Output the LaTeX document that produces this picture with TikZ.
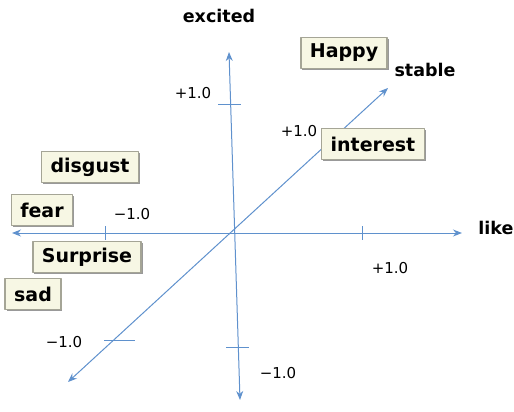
\documentclass[tikz,border=0pt]{standalone}
\usepackage{fontspec}
\setmainfont{DejaVu Sans}
\usetikzlibrary{shadows,arrows.meta}
\definecolor{axisblue}{RGB}{95,145,205}
\definecolor{boxfill}{RGB}{247,247,228}
\definecolor{boxedge}{RGB}{165,165,150}
\tikzset{
	emobox/.style={draw=boxedge, line width=1.5pt, fill=boxfill, font=\bfseries\fontsize{19}{21}\selectfont,
		minimum height=31pt, inner xsep=9pt, inner ysep=2pt,
		drop shadow={shadow xshift=1.5pt, shadow yshift=-1.5pt, fill=black!50, opacity=0.8}},
	axislbl/.style={font=\bfseries\fontsize{17.5}{20}\selectfont},
	ticklbl/.style={font=\fontsize{15}{18}\selectfont},
	axisln/.style={draw=axisblue, line width=1pt},
}
\begin{document}
\begin{tikzpicture}[x=1pt, y=-1pt, line join=round, >={Stealth[length=9pt,width=7pt]}]
	\useasboundingbox (0,0) rectangle (514,412);
	% Trục
	\coordinate (xL) at (12,233); \coordinate (xR) at (462,233);
	\coordinate (yT) at (229,52); \coordinate (yB) at (240,400);
	\coordinate (zB) at (68,382); \coordinate (zT) at (388,88);
	\draw[axisln,<->] (xL)--(xR);
	\draw[axisln,<->] (yB)--(yT);
	\draw[axisln,<->] (zB)--(zT);
	% Vạch chia
	\foreach \x in {105,362} \draw[axisln] (\x,226)--(\x,240);
	\draw[axisln] (218,104)--(241,104);
	\draw[axisln] (226,347)--(249,347);
	\draw[axisln] (104,340)--(135,340);
	% Nhãn trục
	\node[axislbl] (excited) at (219,16) {excited};
	\node[axislbl] (stable) at (425,70) {stable};
	\node[axislbl] (like) at (496,228) {like};
	% Nhãn vạch chia
	\node[ticklbl] (yp) at (193,93) {+1.0};
	\node[ticklbl] (zp) at (299,131) {+1.0};
	\node[ticklbl] (xm) at (132,214) {−1.0};
	\node[ticklbl] (xp) at (390,268) {+1.0};
	\node[ticklbl] (zm) at (64,342) {−1.0};
	\node[ticklbl] (ym) at (278,373) {−1.0};
	% Cảm xúc
	\node[emobox] (happy) at (344,53) {Happy};
	\node[emobox] (interest) at (373,144) {interest};
	\node[emobox] (disgust) at (90,167) {disgust};
	\node[emobox] (fear) at (42,210) {fear};
	\node[emobox] (surprise) at (87,257) {Surprise};
	\node[emobox] (sad) at (33,294) {sad};
\end{tikzpicture}
\end{document}
